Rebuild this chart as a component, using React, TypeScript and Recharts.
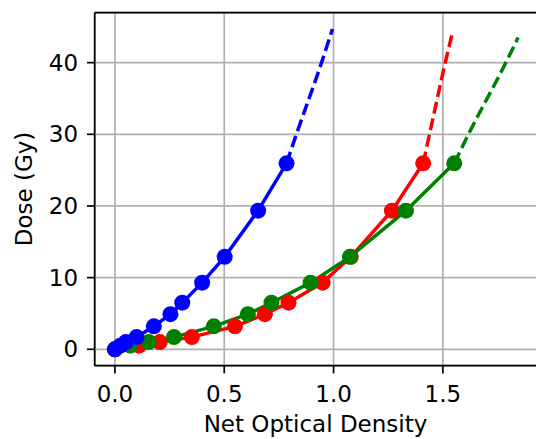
import React from 'react';
import { ComposedChart, Line, XAxis, YAxis, CartesianGrid, ReferenceLine, Label } from 'recharts';

// Measured doses (Gy), shared by the three channels
const doses = [0, 0.5, 1.0, 1.7, 3.2, 4.9, 6.5, 9.3, 12.9, 19.35, 25.95];

// Net optical density per channel
const blueOD = [0, 0.025, 0.05, 0.099, 0.178, 0.254, 0.308, 0.399, 0.502, 0.655, 0.785];
const redOD = [0, 0.11, 0.205, 0.352, 0.549, 0.686, 0.794, 0.95, 1.079, 1.267, 1.41];
const greenOD = [0, 0.07, 0.155, 0.27, 0.452, 0.608, 0.716, 0.895, 1.075, 1.331, 1.552];

// Extrapolated fit curves (dashed)
const blueExtX = [0.785, 0.83, 0.945, 0.995];
const blueExtY = [25.95, 30, 40, 44.7];
const redExtX = [1.41, 1.439, 1.511, 1.544];
const redExtY = [25.95, 30, 40, 44.2];
const greenExtX = [1.552, 1.617, 1.788, 1.844];
const greenExtY = [25.95, 30, 40, 43.5];

const xTicks = [0, 0.5, 1.0, 1.5];
const yTicks = [0, 10, 20, 30, 40];

const X_MIN = -0.0925;
const X_MAX = 1.9425;
const Y_MIN = -2.29;
const Y_MAX = 46.97;

const zip = (xs: number[], ys: number[]) => xs.map((x, i) => ({ x, y: ys[i] }));

const blueData = zip(blueOD, doses);
const redData = zip(redOD, doses);
const greenData = zip(greenOD, doses);
const blueExt = zip(blueExtX, blueExtY);
const redExt = zip(redExtX, redExtY);
const greenExt = zip(greenExtX, greenExtY);

const FONT = 'DejaVu Sans';
const tickStyle = { fill: '#000', fontSize: 23, fontFamily: FONT };

const series = [
  { key: 'red', color: '#ff0000', data: redData, ext: redExt },
  { key: 'green', color: '#008000', data: greenData, ext: greenExt },
  { key: 'blue', color: '#0000ff', data: blueData, ext: blueExt },
];

export default function App() {
  return (
    <div style={{ position: 'absolute', left: 0, top: 0, width: 536, height: 439, overflow: 'hidden', background: '#fff' }}>
      <ComposedChart width={545} height={439} margin={{ top: 12.7, right: 5.4, bottom: 0, left: 0 }}>
        <CartesianGrid stroke="#b0b0b0" strokeWidth={1.7} />
        <XAxis
          type="number"
          dataKey="x"
          domain={[X_MIN, X_MAX]}
          allowDataOverflow
          ticks={xTicks}
          tickFormatter={(v: number) => v.toFixed(1)}
          height={73.3}
          tickSize={7.7}
          tickMargin={12}
          tick={tickStyle}
          axisLine={{ stroke: '#000', strokeWidth: 1.7 }}
          tickLine={{ stroke: '#000', strokeWidth: 1.7 }}
        >
          <Label
            content={() => (
              <text x={315.5} y={431.5} textAnchor="middle" fontSize={23} fontFamily={FONT} fill="#000">
                Net Optical Density
              </text>
            )}
          />
        </XAxis>
        <YAxis
          type="number"
          domain={[Y_MIN, Y_MAX]}
          allowDataOverflow
          ticks={yTicks}
          width={94.7}
          tickSize={7.7}
          tickMargin={8.9}
          tick={tickStyle}
          axisLine={{ stroke: '#000', strokeWidth: 1.7 }}
          tickLine={{ stroke: '#000', strokeWidth: 1.7 }}
        >
          <Label
            content={() => (
              <text
                x={31.7}
                y={189}
                transform="rotate(-90 31.7 189)"
                textAnchor="middle"
                fontSize={23}
                fontFamily={FONT}
                fill="#000"
              >
                Dose (Gy)
              </text>
            )}
          />
        </YAxis>
        <ReferenceLine y={Y_MAX} stroke="#000" strokeWidth={1.7} />
        {series.map((s) => (
          <Line
            key={s.key + '-ext'}
            data={s.ext}
            dataKey="y"
            type="monotone"
            stroke={s.color}
            strokeWidth={3.5}
            strokeDasharray="12 5"
            dot={false}
            activeDot={false}
            isAnimationActive={false}
          />
        ))}
        {series.map((s) => (
          <Line
            key={s.key}
            data={s.data}
            dataKey="y"
            type="linear"
            stroke={s.color}
            strokeWidth={3.5}
            dot={{ r: 8, fill: s.color, stroke: s.color, strokeWidth: 0 }}
            activeDot={false}
            isAnimationActive={false}
          />
        ))}
      </ComposedChart>
    </div>
  );
}
